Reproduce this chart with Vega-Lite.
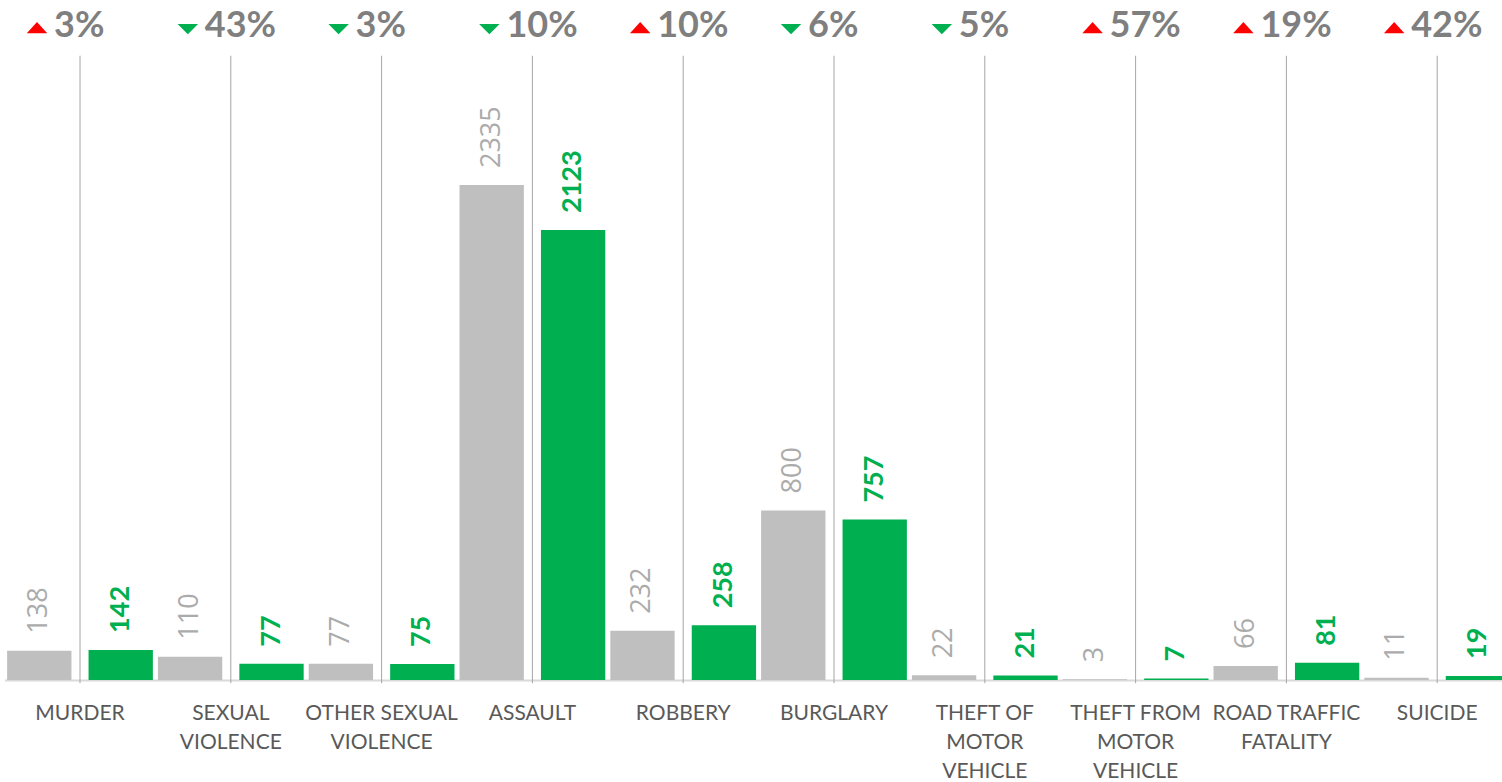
{
  "$schema": "https://vega.github.io/schema/vega-lite/v6.json",
  "autosize": "none",
  "width": 1502,
  "height": 680,
  "padding": {"left": 0, "right": 0, "top": 0, "bottom": 102},
  "background": "white",
  "config": {"view": {"stroke": null}, "font": "Lato"},
  "datasets": {
    "counts": [
      {"crime": "MURDER", "period": "prev", "value": 138},
      {"crime": "MURDER", "period": "curr", "value": 142},
      {"crime": "SEXUAL VIOLENCE", "period": "prev", "value": 110},
      {"crime": "SEXUAL VIOLENCE", "period": "curr", "value": 77},
      {"crime": "OTHER SEXUAL VIOLENCE", "period": "prev", "value": 77},
      {"crime": "OTHER SEXUAL VIOLENCE", "period": "curr", "value": 75},
      {"crime": "ASSAULT", "period": "prev", "value": 2335},
      {"crime": "ASSAULT", "period": "curr", "value": 2123},
      {"crime": "ROBBERY", "period": "prev", "value": 232},
      {"crime": "ROBBERY", "period": "curr", "value": 258},
      {"crime": "BURGLARY", "period": "prev", "value": 800},
      {"crime": "BURGLARY", "period": "curr", "value": 757},
      {"crime": "THEFT OF MOTOR VEHICLE", "period": "prev", "value": 22},
      {"crime": "THEFT OF MOTOR VEHICLE", "period": "curr", "value": 21},
      {"crime": "THEFT FROM MOTOR VEHICLE", "period": "prev", "value": 3},
      {"crime": "THEFT FROM MOTOR VEHICLE", "period": "curr", "value": 7},
      {"crime": "ROAD TRAFFIC FATALITY", "period": "prev", "value": 66},
      {"crime": "ROAD TRAFFIC FATALITY", "period": "curr", "value": 81},
      {"crime": "SUICIDE", "period": "prev", "value": 11},
      {"crime": "SUICIDE", "period": "curr", "value": 19}
    ],
    "changes": [
      {"crime": "MURDER", "change": "3%", "dir": "up"},
      {"crime": "SEXUAL VIOLENCE", "change": "43%", "dir": "down"},
      {"crime": "OTHER SEXUAL VIOLENCE", "change": "3%", "dir": "down"},
      {"crime": "ASSAULT", "change": "10%", "dir": "down"},
      {"crime": "ROBBERY", "change": "10%", "dir": "up"},
      {"crime": "BURGLARY", "change": "6%", "dir": "down"},
      {"crime": "THEFT OF MOTOR VEHICLE", "change": "5%", "dir": "down"},
      {"crime": "THEFT FROM MOTOR VEHICLE", "change": "57%", "dir": "up"},
      {"crime": "ROAD TRAFFIC FATALITY", "change": "19%", "dir": "up"},
      {"crime": "SUICIDE", "change": "42%", "dir": "up"}
    ]
  },
  "encoding": {
    "x": {
      "field": "crime",
      "type": "nominal",
      "sort": null,
      "scale": {
        "domain": ["MURDER", "SEXUAL VIOLENCE", "OTHER SEXUAL VIOLENCE", "ASSAULT", "ROBBERY", "BURGLARY", "THEFT OF MOTOR VEHICLE", "THEFT FROM MOTOR VEHICLE", "ROAD TRAFFIC FATALITY", "SUICIDE"],
        "range": [4.6, 1512.6],
        "paddingInner": 0,
        "paddingOuter": 0
      },
      "axis": {
        "title": null,
        "ticks": false,
        "domainColor": "#d9d9d9",
        "domainWidth": 2,
        "labelFont": "Lato",
        "labelFontSize": 21,
        "labelColor": "#595959",
        "labelPadding": 22,
        "labelBaseline": "top",
        "labelLineHeight": 29,
        "labelAngle": 0,
        "labelLimit": 0,
        "labelExpr": "datum.value == 'SEXUAL VIOLENCE' ? ['SEXUAL','VIOLENCE'] : datum.value == 'OTHER SEXUAL VIOLENCE' ? ['OTHER SEXUAL','VIOLENCE'] : datum.value == 'THEFT OF MOTOR VEHICLE' ? ['THEFT OF','MOTOR','VEHICLE'] : datum.value == 'THEFT FROM MOTOR VEHICLE' ? ['THEFT FROM','MOTOR','VEHICLE'] : datum.value == 'ROAD TRAFFIC FATALITY' ? ['ROAD TRAFFIC','FATALITY'] : datum.value"
      }
    }
  },
  "layer": [
    {
      "data": {"name": "changes"},
      "mark": {"type": "rule", "color": "#a6a6a6", "strokeWidth": 1},
      "encoding": {
        "y": {"datum": 2945, "type": "quantitative", "scale": {"domain": [0, 3208], "nice": false}, "axis": null},
        "y2": {"datum": -15}
      }
    },
    {
      "data": {"name": "counts"},
      "mark": {"type": "bar"},
      "encoding": {
        "xOffset": {"field": "period", "type": "nominal", "scale": {"domain": ["prev", "curr"], "paddingInner": 0.21, "paddingOuter": 0.031}},
        "y": {"field": "value", "type": "quantitative", "scale": {"domain": [0, 3208], "nice": false}, "axis": null},
        "color": {"field": "period", "type": "nominal", "scale": {"domain": ["prev", "curr"], "range": ["#bfbfbf", "#00b050"]}, "legend": null}
      }
    },
    {
      "data": {"name": "counts"},
      "transform": [{"filter": "datum.period == 'prev'"}],
      "mark": {"type": "text", "angle": 270, "align": "left", "baseline": "middle", "dx": 17, "fontSize": 27, "color": "#ababab", "font": "Open Sans"},
      "encoding": {
        "xOffset": {"field": "period", "type": "nominal", "scale": {"domain": ["prev", "curr"], "paddingInner": 0.21, "paddingOuter": 0.031}},
        "y": {"field": "value", "type": "quantitative"},
        "text": {"field": "value", "type": "quantitative"}
      }
    },
    {
      "data": {"name": "counts"},
      "transform": [{"filter": "datum.period == 'curr'"}],
      "mark": {"type": "text", "angle": 270, "align": "left", "baseline": "middle", "dx": 17, "fontSize": 27, "fontWeight": "bold", "color": "#00b050", "font": "Lato"},
      "encoding": {
        "xOffset": {"field": "period", "type": "nominal", "scale": {"domain": ["prev", "curr"], "paddingInner": 0.21, "paddingOuter": 0.031}},
        "y": {"field": "value", "type": "quantitative"},
        "text": {"field": "value", "type": "quantitative"}
      }
    },
    {
      "data": {"name": "changes"},
      "transform": [{"filter": "datum.dir == 'up'"}],
      "mark": {"type": "point", "filled": true, "size": 420, "opacity": 1, "strokeWidth": 0, "xOffset": -43, "color": "#ff0000", "shape": "M-1,0.55L1,0.55L0,-0.55Z"},
      "encoding": {
        "y": {"datum": 3078, "type": "quantitative"}
      }
    },
    {
      "data": {"name": "changes"},
      "transform": [{"filter": "datum.dir == 'down'"}],
      "mark": {"type": "point", "filled": true, "size": 420, "opacity": 1, "strokeWidth": 0, "xOffset": -43, "color": "#00b050", "shape": "M-1,-0.5L1,-0.5L0,0.5Z"},
      "encoding": {
        "y": {"datum": 3071, "type": "quantitative"}
      }
    },
    {
      "data": {"name": "changes"},
      "mark": {"type": "text", "align": "left", "baseline": "alphabetic", "dx": -26, "fontSize": 36, "fontWeight": "bold", "color": "#7f7f7f", "font": "Lato"},
      "encoding": {
        "y": {"datum": 3033, "type": "quantitative"},
        "text": {"field": "change", "type": "nominal"}
      }
    }
  ]
}
